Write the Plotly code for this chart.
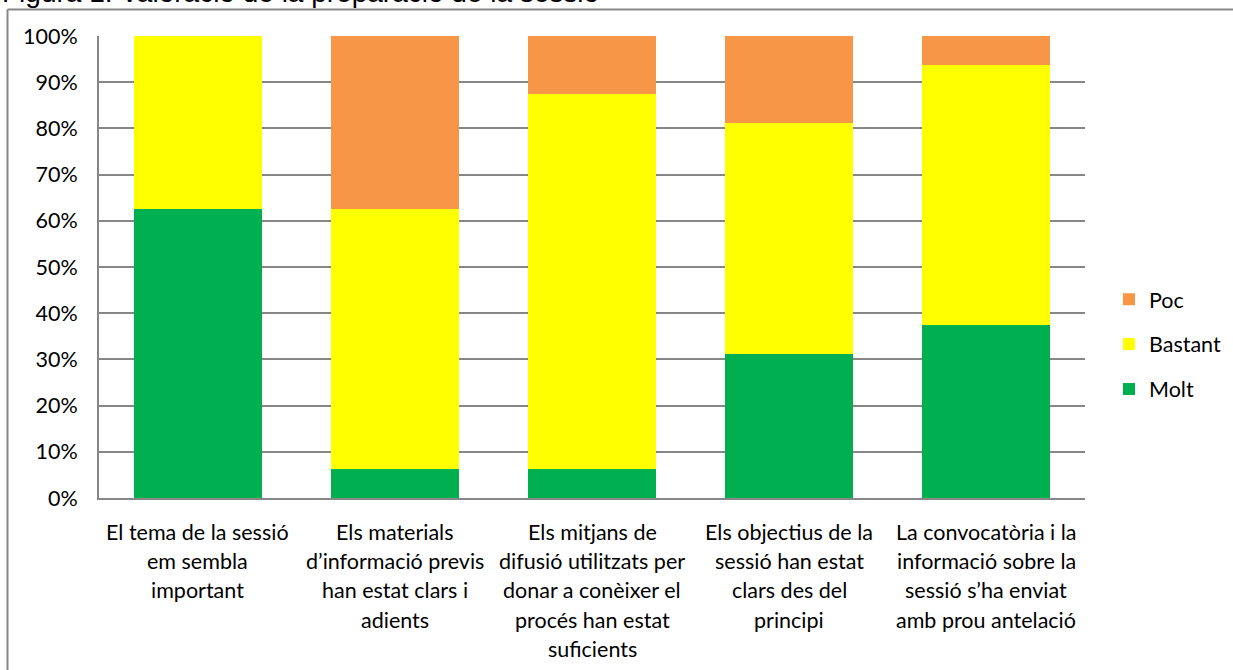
import plotly.graph_objects as go

categories = [
    "El tema de la sessió<br>em sembla<br>important",
    "Els materials<br>d’informació previs<br>han estat clars i<br>adients",
    "Els mitjans de<br>difusió utilitzats per<br>donar a conèixer el<br>procés han estat<br>suficients",
    "Els objectius de la<br>sessió han estat<br>clars des del<br>principi",
    "La convocatòria i la<br>informació sobre la<br>sessió s’ha enviat<br>amb prou antelació",
]
molt = [62.5, 6.25, 6.25, 31.25, 37.5]
bastant = [37.5, 56.25, 81.25, 50.0, 56.25]
poc = [0.0, 37.5, 12.5, 18.75, 6.25]
tick_vals = [0, 10, 20, 30, 40, 50, 60, 70, 80, 90, 100]
tick_text = [f"{v}%" for v in tick_vals]
title_text = "Figura 1: Valoració de la preparació de la sessió"

FONT = "Lato"
FS = 21.5
GRID = "#878787"
keys = [f"c{i}" for i in range(len(categories))]

fig = go.Figure()
for name, vals, color, rank in [("Molt", molt, "#00B050", 3), ("Bastant", bastant, "#FFFF00", 2),
                                ("Poc", poc, "#F79646", 1)]:
    fig.add_trace(go.Bar(x=keys, y=vals, name=name, marker=dict(color=color, line=dict(width=0)),
                         legendgroup=name, legendrank=rank, hoverinfo="y+name"))

annotations = []
for k, lab in zip(keys, categories):
    for i, line in enumerate(lab.split("<br>")):
        annotations.append(dict(x=k, xref="x", y=0, yref="paper", text=line, showarrow=False,
                                yanchor="middle", xanchor="center", yshift=-(34 + i * 29.2),
                                font=dict(family=FONT, size=FS, color="#000000")))
annotations.append(dict(x=-0.1004, xref="paper", y=1.0563, yref="paper", text=title_text,
                        showarrow=False, xanchor="left", yanchor="bottom",
                        font=dict(family="Liberation Sans, Arial", size=28, color="#000000")))

shapes = [
    dict(type="line", xref="paper", yref="paper", x0=-0.0928, x1=-0.0928, y0=1.0574, y1=-0.5,
         line=dict(color=GRID, width=2)),
    dict(type="line", xref="paper", yref="paper", x0=-0.0928, x1=1.3, y0=1.0574, y1=1.0574,
         line=dict(color=GRID, width=2)),
]

fig.update_layout(
    width=1233, height=670,
    barmode="stack", bargap=0.35,
    plot_bgcolor="white", paper_bgcolor="white",
    margin=dict(l=99, r=148, t=36, b=172, autoexpand=False),
    font=dict(family=FONT, size=FS, color="#000000"),
    xaxis=dict(showticklabels=False, showgrid=False, showline=True, linecolor=GRID, linewidth=2,
               ticks="", zeroline=False),
    yaxis=dict(range=[0, 100], tickvals=tick_vals, ticktext=tick_text, showgrid=True,
               gridcolor=GRID, gridwidth=2, showline=True, linecolor=GRID, linewidth=2,
               ticks="", zeroline=False, ticklabelstandoff=15,
               tickfont=dict(family=FONT, size=FS, color="#000000")),
    legend=dict(xref="container", x=1109 / 1233, xanchor="left", y=0.333, yanchor="middle",
                traceorder="grouped", tracegroupgap=14,
                font=dict(family=FONT, size=FS, color="#000000"),
                bgcolor="rgba(0,0,0,0)"),
    annotations=annotations,
    shapes=shapes,
    showlegend=True,
)

fig.write_html("out.html", config={"displayModeBar": False},
               post_script="document.body.style.margin='0';")
